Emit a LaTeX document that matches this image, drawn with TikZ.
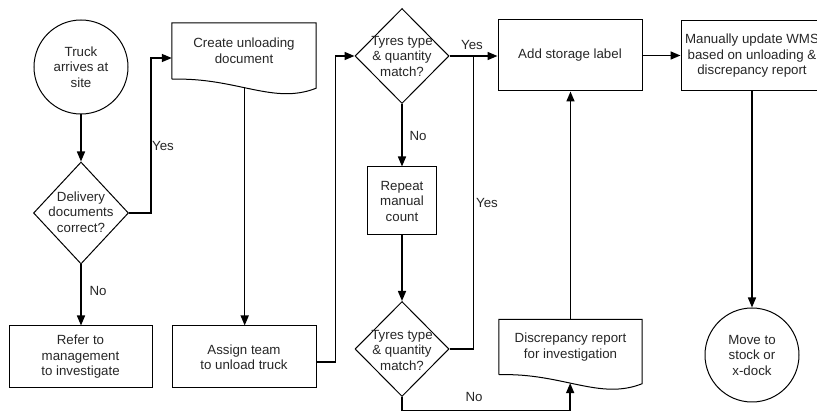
\documentclass[tikz,border=0pt]{standalone}
\usepackage{fontspec}
\setmainfont{Liberation Sans}
\usetikzlibrary{shapes.geometric,arrows.meta,calc}
\begin{document}
\begin{tikzpicture}[x=1pt,y=-1pt,
  font=\fontsize{13.3}{15.5}\selectfont,
  every node/.style={text=black!85},
  box/.style={draw,line width=1pt,rectangle,align=center,inner sep=0pt},
  circ/.style={draw,line width=1pt,circle,minimum size=94pt,inner sep=0pt,align=center},
  dia/.style={draw,line width=1pt,diamond,minimum width=94pt,minimum height=95pt,inner sep=0pt},
  txt/.style={align=center,inner sep=0pt},
  docbox/.style={align=center,inner sep=0pt,minimum width=144pt,minimum height=56pt},
  docline/.style={line width=1pt},
  conn/.style={line width=1.5pt,-{Triangle[length=10pt,width=8pt]}},
  plain/.style={line width=1.3pt},
  lbl/.style={inner sep=1pt}
]
\useasboundingbox (0,0) rectangle (817,411);

% nodes
\node[circ] (t1) at (81,67) {Truck\\arrives at\\site};
\node[dia,minimum width=95pt,minimum height=102pt] (d1) at (81,213) {};
\node[txt] (d1t) at (81,212) {Delivery\\documents\\correct?};
\node[box,minimum width=143pt,minimum height=62pt] (r1) at (80.5,357) {Refer to\\management\\to investigate};
\node[docbox] (doc1) at (244,51) {Create unloading\\document};
\node[box,minimum width=144pt,minimum height=62pt] (a1) at (244,357) {Assign team\\to unload truck};
\node[dia] (d2) at (402,56) {};
\node[txt] (d2t) at (402,56) {Tyres type\\\& quantity\\match?};
\node[box,minimum width=69pt,minimum height=68pt] (rp) at (402,201) {Repeat\\manual\\count};
\node[dia] (d3) at (402,349) {};
\node[txt] (d3t) at (402,350) {Tyres type\\\& quantity\\match?};
\node[box,minimum width=144pt,minimum height=71pt] (add) at (570,55.5) {Add storage label};
\node[box,minimum width=142pt,minimum height=70pt] (wms) at (752,56) {Manually update WMS\\based on unloading \&\\discrepancy report};
\node[docbox,minimum width=143pt,minimum height=55pt] (doc2) at (570.5,347) {Discrepancy report\\for investigation};
\node[circ] (t2) at (752,355) {Move to\\stock or\\x-dock};

% document outlines
\draw[docline] (doc1.south west) -- (doc1.north west) -- (doc1.north east) -- ([yshift=-9pt]doc1.south east)
  .. controls ([xshift=-43pt,yshift=-26pt]doc1.south east) and ([xshift=65pt,yshift=2pt]doc1.south west) .. (doc1.south west)
  coordinate[pos=0.555] (doc1b);
\draw[docline] (doc2.south west) -- (doc2.north west) -- (doc2.north east) -- ([yshift=-9pt]doc2.south east)
  .. controls ([xshift=-43pt,yshift=-26pt]doc2.south east) and ([xshift=64pt,yshift=2pt]doc2.south west) .. (doc2.south west)
  coordinate[pos=0.56] (doc2b);

\coordinate (j1) at ($(d2.east)!0.5!(add.west)$);

% connectors
\draw[conn] (t1.south) -- (d1.north);
\draw[conn] (d1.east) -- ++(22,0) |- ([yshift=-7pt]doc1.west);
\draw[conn] (d1.south) -- (d1.south |- r1.north);
\draw[conn] (doc1b) -- (doc1b |- a1.north);
\draw[conn] ([yshift=-5pt]a1.east) -- ++(19,0) |- (d2.west);
\draw[conn] (d2.east) -- (d2.east -| add.west);
\draw[conn] (d2.south) -- (d2.south |- rp.north);
\draw[conn] (rp.south) -- (rp.south |- d3.north);
\draw[plain] (d3.east) -| (j1);
\draw[conn] (d3.south) -- ++(0,14) -| (doc2b);
\draw[conn] (doc2.north) -- (doc2.north |- add.south);
\draw[conn] (add.east) -- (add.east -| wms.west);
\draw[conn] (wms.south) -- (wms.south |- t2.north);

% labels
\node[lbl] (y1) at (163,146) {Yes};
\node[lbl] (n1) at (98,291) {No};
\node[lbl] (y2) at (472,45) {Yes};
\node[lbl] (n2) at (418,136) {No};
\node[lbl] (y3) at (487,203) {Yes};
\node[lbl] (n3) at (474,397) {No};
\end{tikzpicture}
\end{document}
